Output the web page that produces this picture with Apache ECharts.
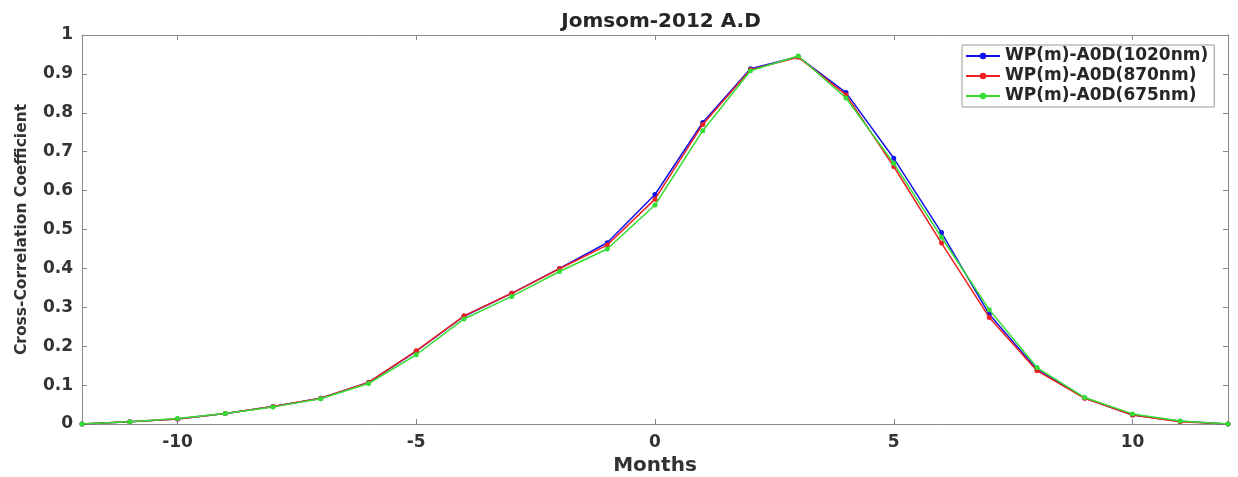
<!DOCTYPE html>
<html><head><meta charset="utf-8">
<script src="https://cdn.jsdelivr.net/npm/echarts@6/dist/echarts.min.js"></script>
<style>html,body{margin:0;padding:0;background:#fff}#c{width:1238px;height:477px}</style>
</head><body><div id="c"></div>
<script>
const months = [-12,-11,-10,-9,-8,-7,-6,-5,-4,-3,-2,-1,0,1,2,3,4,5,6,7,8,9,10,11,12];
const wp1020 = [0,0.006,0.013,0.027,0.045,0.066,0.107,0.187,0.277,0.336,0.400,0.466,0.590,0.775,0.913,0.944,0.852,0.683,0.492,0.282,0.140,0.067,0.023,0.007,0];
const wp870  = [0,0.006,0.013,0.027,0.045,0.066,0.107,0.188,0.278,0.336,0.399,0.460,0.578,0.770,0.911,0.943,0.846,0.662,0.465,0.274,0.137,0.066,0.023,0.006,0];
const wp675  = [0,0.006,0.014,0.027,0.044,0.065,0.104,0.178,0.270,0.328,0.392,0.450,0.563,0.754,0.908,0.946,0.838,0.670,0.480,0.294,0.145,0.068,0.026,0.008,0];
const seriesNames = ['WP(m)-A0D(1020nm)','WP(m)-A0D(870nm)','WP(m)-A0D(675nm)'];
const seriesColors = ['#1010ee','#ee2020','#33dd33'];
const xTicks = [-10,-5,0,5,10];
const yTicks = [0,0.1,0.2,0.3,0.4,0.5,0.6,0.7,0.8,0.9,1];

const font = 'DejaVu Sans, sans-serif';
const pair = (arr) => months.map((m,i)=>[m,arr[i]]);
const data = [wp1020, wp870, wp675];

const chart = echarts.init(document.getElementById('c'), null, {renderer:'canvas'});
const axisLine = {show:true, onZero:false, lineStyle:{color:'#8a8a8a', width:1}};
const tickStyle = {color:'#8a8a8a'};
chart.setOption({
  animation:false,
  backgroundColor:'#fff',
  title:{text:'Jomsom-2012 A.D', left:656, textAlign:'center', top:7,
    textStyle:{fontFamily:font, fontWeight:'bold', fontSize:20, color:'#262626'}},
  grid:{left:82, right:10, top:35, bottom:53, show:false, containLabel:false, outerBoundsMode:'none'},
  legend:{
    orient:'vertical', left:962, top:45,
    data:seriesNames,
    itemWidth:34, itemHeight:8, itemGap:0,
    padding:[1,6,1,3],
    backgroundColor:'#fff', borderColor:'#9a9a9a', borderWidth:1,
    textStyle:{fontFamily:font, fontWeight:'bold', fontSize:17, lineHeight:20, color:'#262626'}
  },
  xAxis:[{
    type:'value', min:-12, max:12, interval:1,
    name:'Months', nameLocation:'middle', nameGap:30,
    nameTextStyle:{fontFamily:font, fontWeight:'bold', fontSize:20, color:'#333'},
    axisLine:axisLine,
    axisTick:{show:true, inside:true, length:5, customValues:xTicks, lineStyle:tickStyle},
    axisLabel:{customValues:xTicks, fontFamily:font, fontWeight:'bold', fontSize:17, color:'#333', margin:10},
    splitLine:{show:false}
  },{
    type:'value', min:-12, max:12, interval:1, position:'top',
    axisLine:axisLine,
    axisTick:{show:true, inside:true, length:5, customValues:xTicks, lineStyle:tickStyle},
    axisLabel:{show:false}, splitLine:{show:false}
  }],
  yAxis:[{
    type:'value', min:0, max:1, interval:0.1,
    name:'Cross-Correlation Coefficient', nameLocation:'middle', nameGap:52, nameRotate:90,
    nameTextStyle:{fontFamily:font, fontWeight:'bold', fontSize:15.5, color:'#333'},
    axisLine:axisLine,
    axisTick:{show:true, inside:true, length:5, lineStyle:tickStyle},
    axisLabel:{customValues:yTicks, fontFamily:font, fontWeight:'bold', fontSize:17, color:'#333', margin:9,
      formatter:(v)=>String(Math.round(v*10)/10)},
    splitLine:{show:false}
  },{
    type:'value', min:0, max:1, interval:0.1, position:'right',
    axisLine:axisLine,
    axisTick:{show:true, inside:true, length:5, lineStyle:tickStyle},
    axisLabel:{show:false}, splitLine:{show:false}
  }],
  series: data.map((d,i)=>({
    name:seriesNames[i], type:'line', data:pair(d),
    xAxisIndex:0, yAxisIndex:0,
    symbol:'circle', symbolSize:5, showSymbol:true,
    lineStyle:{color:seriesColors[i], width:1.5},
    itemStyle:{color:seriesColors[i]},
    z:3+i
  }))
});
</script></body></html>
